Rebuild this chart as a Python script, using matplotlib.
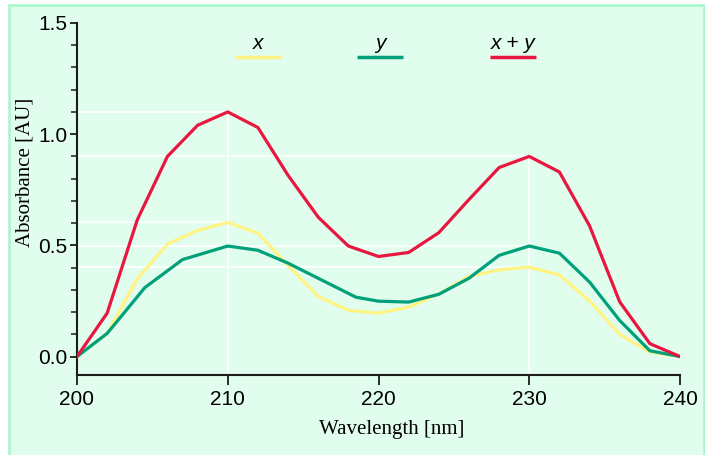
import matplotlib
matplotlib.use('Agg')
import matplotlib.pyplot as plt
from matplotlib.patches import Rectangle
from matplotlib.ticker import MultipleLocator

# wavelength grid (nm)
wl = [200, 202, 204, 206, 208, 210, 212, 214, 216, 218, 220,
      222, 224, 226, 228, 230, 232, 234, 236, 238, 240]
wl_y = [200, 202, 204.5, 207, 210, 212, 214, 216.5, 218.5, 220,
        222, 224, 226, 228, 230, 232, 234, 236, 238, 240]

abs_x = [0, 0.103, 0.35, 0.506, 0.567, 0.603, 0.555, 0.41, 0.27, 0.208, 0.195,
         0.222, 0.282, 0.36, 0.39, 0.402, 0.367, 0.25, 0.10, 0.02, 0]
abs_y = [0, 0.104, 0.31, 0.436, 0.497, 0.478, 0.42, 0.335, 0.267, 0.249,
         0.245, 0.28, 0.352, 0.455, 0.497, 0.465, 0.335, 0.162, 0.026, 0]
abs_xy = [0, 0.195, 0.615, 0.90, 1.04, 1.10, 1.03, 0.815, 0.627, 0.497, 0.45,
          0.468, 0.557, 0.706, 0.85, 0.90, 0.83, 0.588, 0.246, 0.058, 0]

labels = ['x', 'y', 'x + y']
colors = ['#fff383', '#00a07a', '#e8173f']
peaks = [210, 230]

fig = plt.figure(figsize=(7.05, 4.55), dpi=100)
fig.patch.set_facecolor('white')
bg = Rectangle((9 / 705, -0.01), 1 - 9 / 705 - 0.001, 1 - 5 / 455 + 0.01,
               transform=fig.transFigure, facecolor='#e1fdee',
               edgecolor='#a3f7cb', linewidth=1.8, zorder=-10)
fig.patches.append(bg)

ax = fig.add_axes([77 / 705, 1 - 375 / 455, (680 - 77) / 705, (375 - 23) / 455])
ax.set_zorder(5)
ax.set_facecolor('none')
ax.set_xlim(200, 240)
ax.set_ylim(-0.083, 1.5)

# white drop lines marking the peak heights
series = [(wl, abs_x), (wl_y, abs_y), (wl, abs_xy)]
for p in peaks:
    vals = [ys[xs.index(p)] for xs, ys in series]
    for v in vals:
        ax.plot([200, p], [v, v], color='white', lw=1.2, zorder=1)
    ax.plot([p, p], [-0.083, max(vals)], color='white', lw=1.2, zorder=1)

ax.plot(wl, abs_x, color=colors[0], lw=2.3, zorder=3)
ax.plot(wl_y, abs_y, color=colors[1], lw=2.3, zorder=4)
ax.plot(wl, abs_xy, color=colors[2], lw=2.3, zorder=5)

# legend: label above short line
leg_x = [0.300, 0.503, 0.723]
for lx, lab, c in zip(leg_x, labels, colors):
    ax.plot([lx - 0.038, lx + 0.038], [0.902, 0.902], transform=ax.transAxes,
            color=c, lw=2.5, solid_capstyle='butt', clip_on=False)
    ax.text(lx, 0.926, lab, transform=ax.transAxes, ha='center', va='baseline',
            fontsize=15, style='italic', family='Liberation Sans')

for s in ['top', 'right']:
    ax.spines[s].set_visible(False)
for s in ['left', 'bottom']:
    ax.spines[s].set_color('#1c1c1c')
    ax.spines[s].set_linewidth(1.5)

ax.set_xticks([200, 210, 220, 230, 240])
ax.set_yticks([0, 0.5, 1.0, 1.5])
ax.yaxis.set_minor_locator(MultipleLocator(0.1))
ax.set_yticklabels(['0.0', '0.5', '1.0', '1.5'])
ax.tick_params(axis='both', which='major', width=1.3, color='#1c1c1c', labelsize=15)
ax.tick_params(axis='y', which='major', length=5, pad=2)
ax.tick_params(axis='x', which='major', length=7, pad=4)
ax.tick_params(axis='y', which='minor', length=4, width=1.1, color='#1c1c1c')
for t in ax.get_xticklabels() + ax.get_yticklabels():
    t.set_family('Liberation Sans')

ax.set_xlabel('Wavelength [nm]', family='Liberation Serif', fontsize=15, va='center')
ax.set_ylabel('Absorbance [AU]', family='Liberation Serif', fontsize=15, va='center')
ax.xaxis.set_label_coords(0.522, -0.156)
ax.yaxis.set_label_coords(-0.086, 0.577)

fig.savefig('out.png', dpi=100)
